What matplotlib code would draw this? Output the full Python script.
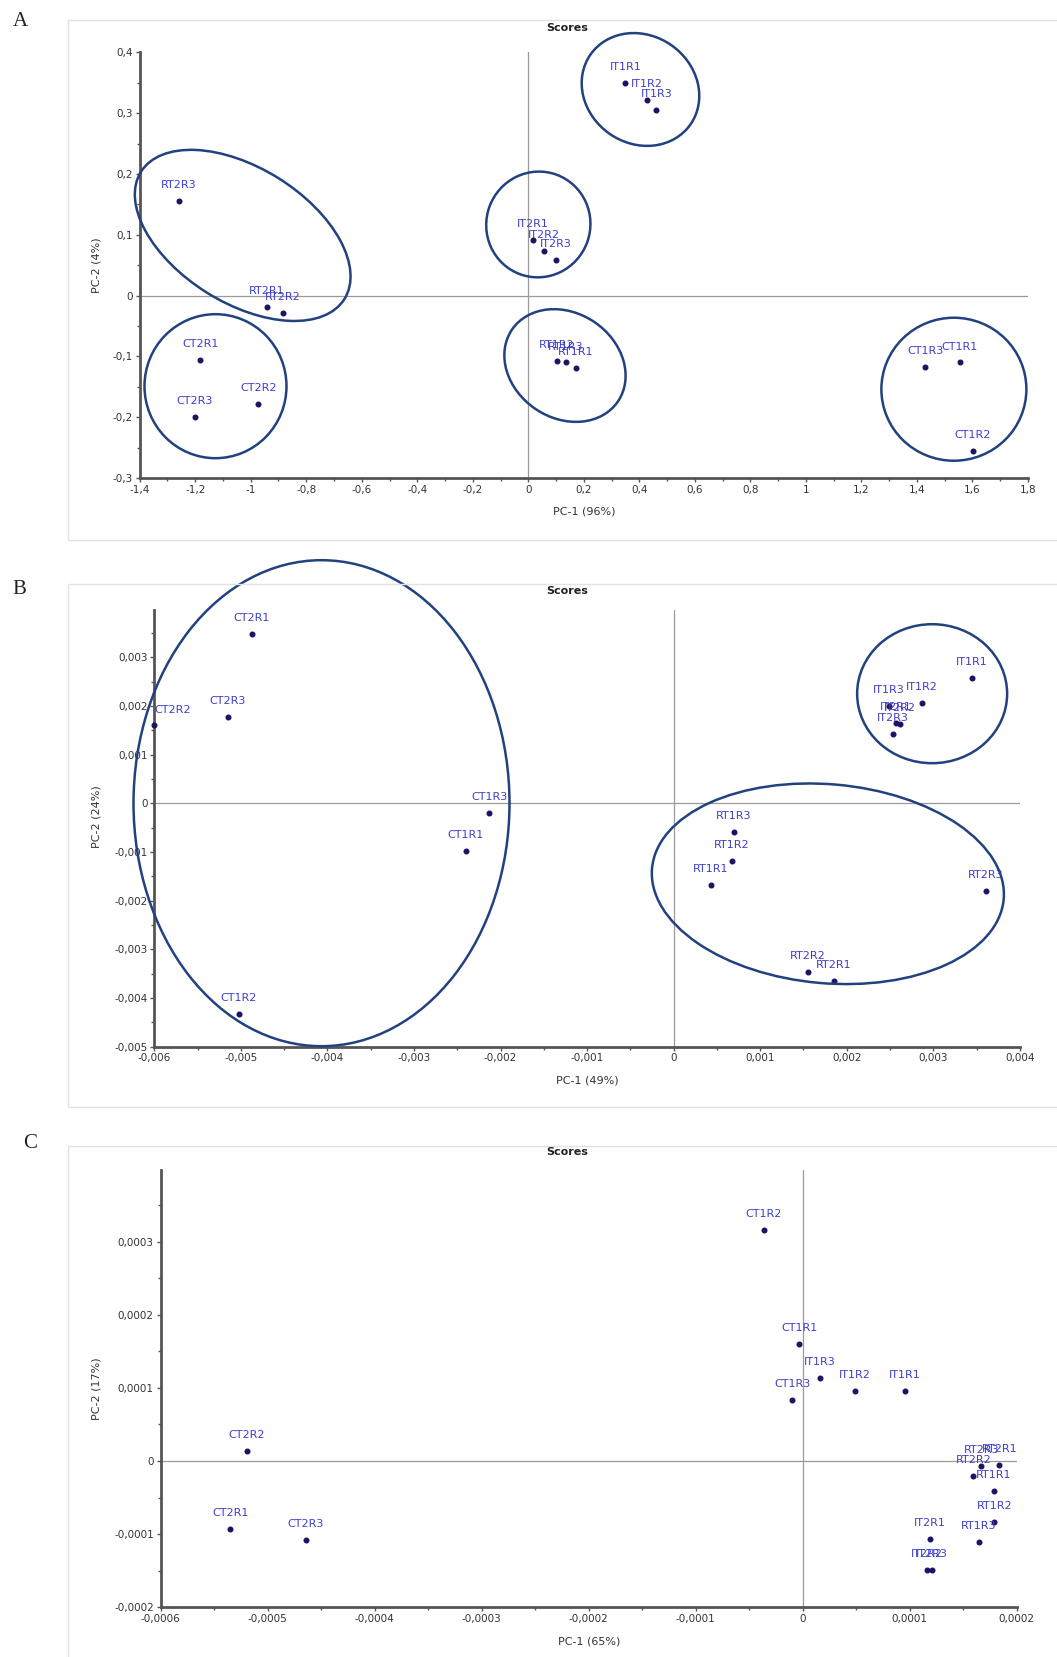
import matplotlib
matplotlib.use("Agg")
import matplotlib.pyplot as plt
import matplotlib.transforms as mtrans
from matplotlib.patches import Ellipse, Rectangle
from matplotlib.ticker import MultipleLocator, AutoMinorLocator, FuncFormatter

# ---- data ----
labels_a = ["IT1R1", "IT1R2", "IT1R3", "IT2R1", "IT2R2", "IT2R3",
            "RT1R1", "RT1R2", "RT1R3", "RT2R1", "RT2R2", "RT2R3",
            "CT1R1", "CT1R2", "CT1R3", "CT2R1", "CT2R2", "CT2R3"]
pc1_a = [0.350, 0.426, 0.461, 0.017, 0.056, 0.100,
         0.171, 0.103, 0.136, -0.941, -0.885, -1.260,
         1.554, 1.602, 1.430, -1.182, -0.973, -1.202]
pc2_a = [0.349, 0.321, 0.306, 0.092, 0.074, 0.059,
         -0.1195, -0.1075, -0.110, -0.018, -0.028, 0.156,
         -0.110, -0.255, -0.117, -0.106, -0.178, -0.199]

labels_b = ["CT2R1", "CT2R2", "CT2R3", "CT1R1", "CT1R2", "CT1R3",
            "IT1R1", "IT1R2", "IT1R3", "IT2R1", "IT2R2", "IT2R3",
            "RT1R1", "RT1R2", "RT1R3", "RT2R1", "RT2R2", "RT2R3"]
pc1_b = [-0.004873, -0.006, -0.005153, -0.002404, -0.005027, -0.002131,
         0.003446, 0.002870, 0.002489, 0.002570, 0.002616, 0.002538,
         0.000433, 0.000669, 0.000698, 0.001855, 0.001553, 0.003609]
pc2_b = [0.003479, 0.001597, 0.001771, -0.000986, -0.004326, -0.000208,
         0.002566, 0.002052, 0.002005, 0.001650, 0.001629, 0.001417,
         -0.001687, -0.001194, -0.000583, -0.003652, -0.003472, -0.001812]

labels_c = ["CT1R1", "CT1R2", "CT1R3", "CT2R1", "CT2R2", "CT2R3",
            "IT1R1", "IT1R2", "IT1R3", "IT2R1", "IT2R2", "IT2R3",
            "RT1R1", "RT1R2", "RT1R3", "RT2R1", "RT2R2", "RT2R3"]
pc1_c = [-0.0000033, -0.0000361, -0.0000099, -0.000535, -0.0005195, -0.0004647,
         0.0000957, 0.0000486, 0.0000158, 0.0001188, 0.0001160, 0.0001207,
         0.0001789, 0.0001792, 0.0001649, 0.0001838, 0.0001595, 0.0001670]
pc2_c = [0.0001604, 0.0003162, 0.0000833, -0.0000932, 0.0000140, -0.0001076,
         0.0000957, 0.0000957, 0.0001133, -0.0001061, -0.0001487, -0.0001487,
         -0.0000411, -0.0000831, -0.0001106, -0.0000053, -0.0000204, -0.0000067]

# hand-drawn group ellipses: centre (data), width/height in pixels, angle
ellipses_a = [(0.404, 0.339, 122, 108, -35), (-1.029, 0.099, 240, 135, -32),
              (0.036, 0.117, 104, 106, -20), (0.132, -0.115, 128, 105, -34),
              (-1.127, -0.149, 142, 144, 0), (1.533, -0.154, 145, 143, 0)]
ellipses_b = [(-0.004069, 0.0, 376, 486, 0), (0.002987, 0.00225, 150, 139, 0),
              (0.001782, -0.001656, 353, 199, -5)]
ellipses_c = []

W, H, DPI = 1057, 1657, 100
DOT = "#1b1464"
TXT = "#3f3fcc"
RING = "#22427f"


def fmt(v, pos):
    s = f"{v:.6f}".rstrip("0").rstrip(".")
    if s in ("-0", ""):
        s = "0"
    return s.replace(".", ",")


fig = plt.figure(figsize=(W / DPI, H / DPI), dpi=DPI)

panels = [
    # box px (left, top, right, bottom), frame px (top, bottom), letter, title y
    dict(ax=(139.7, 52.4, 1028, 478), frame=(20, 540), letter=("A", 20, 22), title_y=28,
         x=(pc1_a, -1.4, 1.8, 0.2), y=(pc2_a, -0.3, 0.4, 0.1), labels=labels_a,
         xl="PC-1 (96%)", yl="PC-2 (4%)", ylab_y=265, ell=ellipses_a),
    dict(ax=(154.4, 610, 1019.8, 1046.5), frame=(584, 1107), letter=("B", 19, 590), title_y=591,
         x=(pc1_b, -0.006, 0.004, 0.001), y=(pc2_b, -0.005, 0.00397, 0.001), labels=labels_b,
         xl="PC-1 (49%)", yl="PC-2 (24%)", ylab_y=817, ell=ellipses_b),
    dict(ax=(160.8, 1170, 1016.6, 1607.3), frame=(1146, 1700), letter=("C", 30, 1143), title_y=1152,
         x=(pc1_c, -0.0006, 0.0002, 0.0001), y=(pc2_c, -0.0002, 0.000398, 0.0001), labels=labels_c,
         xl="PC-1 (65%)", yl="PC-2 (17%)", ylab_y=1389, ell=ellipses_c),
]

for p in panels:
    l, t, r, b = p["ax"]
    ax = fig.add_axes([l / W, 1 - b / H, (r - l) / W, (b - t) / H])
    xs, x0, x1, xstep = p["x"]
    ys, y0, y1, ystep = p["y"]
    ax.set_xlim(x0, x1)
    ax.set_ylim(y0, y1)

    ax.axhline(0, color="#9a9a9a", lw=0.9, zorder=1)
    ax.axvline(0, color="#9a9a9a", lw=0.9, zorder=1)

    ax.scatter(xs, ys, s=11, color=DOT, zorder=3, clip_on=False)
    for lab, xv, yv in zip(p["labels"], xs, ys):
        ha = "left" if xv <= x0 else "center"
        ax.annotate(lab, (xv, yv), xytext=(0, 11.5), textcoords="offset points",
                    ha=ha, va="center", fontsize=8, color=TXT, zorder=4,
                    annotation_clip=False)

    for cx, cy, ew, eh, ang in p["ell"]:
        tr = fig.dpi_scale_trans + mtrans.ScaledTranslation(cx, cy, ax.transData)
        e = Ellipse((0, 0), ew / DPI, eh / DPI, angle=ang, transform=tr,
                    fill=False, ec=RING, lw=1.8, zorder=5, clip_on=False)
        ax.add_artist(e)

    for s in ("top", "right"):
        ax.spines[s].set_visible(False)
    for s in ("left", "bottom"):
        ax.spines[s].set_color("#555555")
        ax.spines[s].set_linewidth(2)
    ax.xaxis.set_major_locator(MultipleLocator(xstep))
    ax.yaxis.set_major_locator(MultipleLocator(ystep))
    ax.xaxis.set_minor_locator(AutoMinorLocator(2))
    ax.yaxis.set_minor_locator(AutoMinorLocator(2))
    ax.xaxis.set_major_formatter(FuncFormatter(fmt))
    ax.yaxis.set_major_formatter(FuncFormatter(fmt))
    ax.tick_params(which="major", length=3, width=1, color="#555555",
                   labelsize=7.5, labelcolor="#333333", pad=2)
    ax.tick_params(which="minor", length=2, width=1, color="#555555")

    ax.set_xlabel(p["xl"], fontsize=8, color="#333333")
    ax.set_ylabel(p["yl"], fontsize=8, color="#333333")
    ax.xaxis.set_label_coords(0.5, -29 / (b - t))
    ax.yaxis.set_label_coords(-(l - 101.5) / (r - l), (b - p["ylab_y"]) / (b - t))

    ft, fb = p["frame"]
    fig.add_artist(Rectangle((68 / W, 1 - fb / H), 1.1, (fb - ft) / H,
                             transform=fig.transFigure, fill=False,
                             ec="#e2e2e2", lw=1))
    fig.text(567 / W, 1 - p["title_y"] / H, "Scores", ha="center", va="center",
             fontsize=8, fontweight="bold", color="#222222")
    letter, lx, ly = p["letter"]
    fig.text(lx / W, 1 - ly / H, letter, ha="center", va="center",
             fontsize=15, family="Liberation Serif", color="#222222")

fig.savefig("out.png", dpi=DPI)
